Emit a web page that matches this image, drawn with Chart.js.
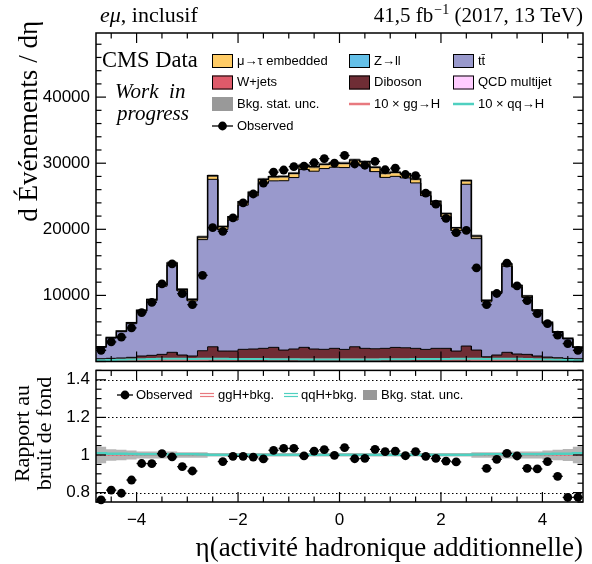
<!DOCTYPE html>
<html><head><meta charset="utf-8">
<script src="https://cdn.jsdelivr.net/npm/chart.js@4.4.1/dist/chart.umd.min.js"></script>
<style>
html,body{margin:0;padding:0;background:#fff;}
#wrap{position:relative;width:592px;height:564px;overflow:hidden;background:#fff;}
canvas{position:absolute;left:0;}
#cMain{top:0;}
#cRatio{top:366px;}
</style></head><body>
<div id="wrap"><canvas id="cMain" width="592" height="366"></canvas><canvas id="cRatio" width="592" height="198"></canvas></div>
<script>
// ---------------- DATA ----------------
const ETA_MIN = -4.8, ETA_MAX = 4.8, BIN_W = 0.2;   // 48 bins in eta
const zll      = [10,10,10,15,15,20,20,25,20,20,30,40, 30,30,35,35,35,35,35,35,40,40,40,40, 40,40,40,35,35,35,35,35,35,35,30,30, 40,30,20,20,25,20,20,15,15,10,10,10];
const qcd      = [15,15,20,20,25,30,35,45,35,30,50,70, 55,55,60,60,65,65,65,65,70,70,70,70, 70,70,70,65,65,65,65,65,60,60,55,55, 70,50,30,35,45,35,30,25,20,20,15,15];
const wjets    = [30,35,40,45,55,60,70,90,70,60,100,140, 110,110,120,125,130,135,130,135,140,140,140,140, 140,140,140,135,130,135,130,130,125,120,110,110, 140,100,60,70,90,70,60,55,45,40,35,30];
const diboson  = [365,420,460,550,735,820,955,1230,855,720,1450,1980, 1385,1385,1625,1670,1760,1905,1500,1655,1890,1640,1590,1740, 1580,1980,1740,1695,1760,1895,1850,1760,1610,1775,1795,1385, 2090,1550,610,855,1230,1005,970,735,590,500,410,365];
const ttbar    = [1740,3070,3980,5090,6730,8220,10310,13200,9700,8340,16810,25330, 18380,19830,21820,23180,24990,25190,25620,25940,26900,26900,27350,27400, 27510,27600,27580,26800,25860,25880,25700,25030,23270,21730,19910,18210, 24470,16860,8300,9290,13020,10120,8600,6800,5120,3820,2940,1700];
const embedded = [60,90,110,140,180,220,260,330,260,230,380,560, 450,480,520,550,600,620,640,650,660,660,660,660, 660,660,660,660,650,640,620,600,550,520,480,450, 560,380,230,260,330,260,220,180,140,110,90,60];
const observed = [1690,2960,3680,5080,7390,8940,11730,14770,10260,8600,13040,20240, 19700,21740,24010,25340,27000,28650,28970,29480,29550,30070,30690,30000, 31170,29880,29690,30270,29010,29250,28290,28120,25470,23800,21660,19490, 19830,14150,8590,10290,14870,11450,9200,7230,5720,3990,2710,1690];
const bkgRelUnc = [0.044,0.03,0.028,0.024,0.019,0.019,0.019,0.019,0.015,0.015,0.015,0.008, 0.008,0.008,0.008,0.008,0.008,0.008,0.008,0.008,0.008,0.008,0.008,0.008, 0.008,0.008,0.008,0.008,0.008,0.008,0.008,0.008,0.008,0.008,0.008,0.008, 0.008,0.015,0.015,0.015,0.019,0.019,0.019,0.019,0.024,0.028,0.032,0.044];
const ggH10    = [80,100,120,140,160,180,200,220,210,200,240,280, 270,280,290,300,300,310,310,310,320,320,320,320, 320,320,320,320,310,310,310,300,300,290,280,270, 280,240,200,210,220,200,180,160,140,120,100,80];
const qqH10    = [200,240,280,320,350,380,400,420,400,380,400,420, 400,390,380,370,360,350,340,330,320,320,310,310, 310,310,320,320,330,340,350,360,370,380,390,400, 420,400,380,400,420,400,380,350,320,280,240,200];
const mainYLabels  = [10000, 20000, 30000, 40000];
const ratioYLabels = [0.8, 1.0, 1.2, 1.4];
const xLabels      = [-4, -2, 0, 2, 4];
const mainYRange = {min:0, max:49700, major:10000, minor:2000};
const ratioYRange = {min:0.75, max:1.45, major:0.2, minor:0.05};
const xTickSteps = {major:2, minor:0.5};

// ---------------- STYLE ----------------
const SANS = "'Liberation Sans', Arial, Helvetica, sans-serif";
const SERIF = "'Liberation Serif', 'Times New Roman', serif";
Chart.defaults.font.family = SANS;
const COL = {zll:'#64c0e8', qcd:'#ffccff', w:'#de5a6a', vv:'#6f2d35', tt:'#9999cc', emb:'#ffcc66',
             unc:'rgba(125,125,125,0.55)', uncR:'rgba(150,150,150,0.7)', ggH:'#e8797f', qqH:'#4fd0c0'};

const N = observed.length;
const edges = Array.from({length:N+1},(_,i)=> +(ETA_MIN + i*BIN_W).toFixed(4));
const centers = Array.from({length:N},(_,i)=> +(ETA_MIN + (i+0.5)*BIN_W).toFixed(4));
function steps(vals){ const p=[]; vals.forEach((v,i)=>{ if(v==null) return; p.push({x:edges[i],y:v},{x:edges[i+1],y:v}); }); return p; }

const layers = [
  {vals:zll, color:COL.zll}, {vals:qcd, color:COL.qcd}, {vals:wjets, color:COL.w},
  {vals:diboson, color:COL.vv}, {vals:ttbar, color:COL.tt}, {vals:embedded, color:COL.emb}
];
const cums = []; let acc = new Array(N).fill(0);
layers.forEach(L=>{ acc = acc.map((c,i)=>c+L.vals[i]); cums.push(acc.slice()); });
const total = cums[cums.length-1];

function lineDS(data, extra){ return Object.assign({type:'line', data, showLine:true, pointRadius:0, borderWidth:0, fill:false, tension:0, clip:false}, extra); }

function ticksFor(min,max,minor,major){
  const out=[]; const k0=Math.ceil(min/minor-1e-9), k1=Math.floor(max/minor+1e-9);
  for(let k=k0;k<=k1;k++){ const v=k*minor; const r=v/major; out.push([v, Math.abs(r-Math.round(r))<1e-6]); }
  return out;
}
function seg(ctx,x0,y0,x1,y1){ ctx.beginPath(); ctx.moveTo(x0,y0); ctx.lineTo(x1,y1); ctx.stroke(); }
function fixAxis(w,h,labels){
  return {
    afterBuildTicks:s=>{ if(labels) s.ticks = labels.map(v=>({value:v})); },
    afterFit:s=>{ if(w!=null) s.width=w; if(h!=null) s.height=h; s.paddingTop=0; s.paddingBottom=0; s.paddingLeft=0; s.paddingRight=0; }
  };
}

function decor(o){
  return {
    id:'decor',
    beforeDatasetsDraw(chart){
      if(!o.dotted) return;
      const {ctx, chartArea:a, scales:{y}} = chart;
      ctx.save(); ctx.strokeStyle='#000'; ctx.lineWidth=1; ctx.setLineDash([1.5,2.5]);
      o.dotted.forEach(v=>{ const py=Math.round(y.getPixelForValue(v))+0.5; seg(ctx,a.left,py,a.right,py); });
      ctx.restore();
    },
    afterDatasetsDraw(chart){
      const {ctx, chartArea:a, scales:{x,y}} = chart;
      ctx.save(); ctx.strokeStyle='#000'; ctx.lineWidth=1.2;
      ticksFor(x.min,x.max,o.xMinor,o.xMajor).forEach(([v,maj])=>{
        const px=x.getPixelForValue(v), L=maj?o.maj:o.min;
        seg(ctx,px,a.bottom,px,a.bottom-L); seg(ctx,px,a.top,px,a.top+L);
      });
      ticksFor(y.min,y.max,o.yMinor,o.yMajor).forEach(([v,maj])=>{
        const py=y.getPixelForValue(v), L=maj?o.maj:o.min;
        seg(ctx,a.left,py,a.left+L,py); seg(ctx,a.right,py,a.right-L,py);
      });
      ctx.lineWidth=1.5; ctx.strokeRect(a.left,a.top,a.right-a.left,a.bottom-a.top);
      ctx.restore();
    }
  };
}
function errBars(getPts){
  return { id:'err', afterDatasetsDraw(chart){
    const {ctx, scales:{x,y}} = chart;
    ctx.save(); ctx.strokeStyle='#000'; ctx.lineWidth=1.3;
    getPts().forEach(p=>{ if(p.y==null) return;
      const px=x.getPixelForValue(p.x), py=y.getPixelForValue(p.y);
      seg(ctx,x.getPixelForValue(p.x-BIN_W/2),py,x.getPixelForValue(p.x+BIN_W/2),py);
      seg(ctx,px,y.getPixelForValue(p.y-p.e),px,y.getPixelForValue(p.y+p.e));
    });
    ctx.restore();
  }};
}

// ---------------- MAIN PANEL ----------------
const mainDS = [];
layers.forEach((L,k)=> mainDS.push(lineDS(steps(cums[k]), {fill:k===0?'origin':'-1', backgroundColor:L.color, order:100-k})));
mainDS.push(lineDS(steps(total.map((t,i)=>t*(1-bkgRelUnc[i]))), {order:60}));
mainDS.push(lineDS(steps(total.map((t,i)=>t*(1+bkgRelUnc[i]))), {fill:'-1', backgroundColor:COL.unc, order:59}));
cums.forEach((c,k)=> mainDS.push(lineDS(steps(c), {borderColor:'#000', borderWidth:k===cums.length-1?1.5:1, order:50-k})));
mainDS.push(lineDS(steps(ggH10), {borderColor:COL.ggH, borderWidth:2, order:30}));
mainDS.push(lineDS(steps(qqH10), {borderColor:COL.qqH, borderWidth:2, order:29}));
mainDS.push({type:'line', data:centers.map((c,i)=>({x:c,y:observed[i]})), showLine:false, pointRadius:4.4,
  pointBackgroundColor:'#000', pointBorderWidth:0, order:1, clip:false});

const mainText = {
  id:'mainText',
  afterDraw(chart){
    const ctx = chart.ctx; ctx.save(); ctx.fillStyle='#000';
    ctx.textBaseline='alphabetic'; ctx.textAlign='left';
    ctx.font = `italic 22px ${SERIF}`; ctx.fillText('eμ', 100, 22);
    let w = ctx.measureText('eμ').width;
    ctx.font = `22px ${SERIF}`; ctx.fillText(', inclusif', 100+w, 22);
    const p1='41,5 fb', p2='\u22121', p3=' (2017, 13 TeV)';
    ctx.font = `21px ${SERIF}`; const w1=ctx.measureText(p1).width, w3=ctx.measureText(p3).width;
    ctx.font = `14px ${SERIF}`; const w2=ctx.measureText(p2).width;
    let x0 = 583 - (w1+w2+w3+1);
    ctx.font = `21px ${SERIF}`; ctx.fillText(p1, x0, 22);
    ctx.font = `14px ${SERIF}`; ctx.fillText(p2, x0+w1+1, 14);
    ctx.font = `21px ${SERIF}`; ctx.fillText(p3, x0+w1+w2+1, 22);
    ctx.save(); ctx.translate(37, 21); ctx.rotate(-Math.PI/2);
    ctx.font = `27px ${SERIF}`; ctx.textAlign='right'; ctx.fillText('d Événements / dη', 0, 0); ctx.restore();
    ctx.font = `22.5px ${SERIF}`; ctx.fillText('CMS Data', 102, 67);
    ctx.font = `italic 21px ${SERIF}`; ctx.fillText('Work  in', 115, 98); ctx.fillText('progress', 117, 120);
    ctx.font = `13px ${SANS}`; ctx.textBaseline='middle';
    const cols=[212,349,453], rows=[61,82.5,104,126], bw=21, bh=14;
    const boxE=(c,r,color,border)=>{ const x=cols[c], yc=rows[r]; ctx.fillStyle=color; ctx.fillRect(x,yc-bh/2,bw,bh);
      if(border){ ctx.strokeStyle='#000'; ctx.lineWidth=1; ctx.strokeRect(x+0.5,yc-bh/2+0.5,bw-1,bh-1);} };
    const lineE=(c,r,color)=>{ const x=cols[c], yc=rows[r]; ctx.strokeStyle=color; ctx.lineWidth=2.5; seg(ctx,x,yc,x+bw,yc); };
    const txt=(c,r,s)=>{ ctx.fillStyle='#000'; ctx.fillText(s, cols[c]+25, rows[r]); };
    boxE(0,0,COL.emb,true); txt(0,0,'μ→τ embedded');
    boxE(1,0,COL.zll,true); txt(1,0,'Z→ll');
    boxE(2,0,COL.tt,true);  txt(2,0,'tt\u0304');
    boxE(0,1,COL.w,true);   txt(0,1,'W+jets');
    boxE(1,1,COL.vv,true);  txt(1,1,'Diboson');
    boxE(2,1,COL.qcd,true); txt(2,1,'QCD multijet');
    boxE(0,2,'#999999',false); txt(0,2,'Bkg. stat. unc.');
    lineE(1,2,COL.ggH); txt(1,2,'10 × gg→H');
    lineE(2,2,COL.qqH); txt(2,2,'10 × qq→H');
    ctx.strokeStyle='#000'; ctx.lineWidth=1.3; seg(ctx,cols[0],rows[3],cols[0]+bw,rows[3]);
    ctx.beginPath(); ctx.arc(cols[0]+bw/2, rows[3], 4.4, 0, 2*Math.PI); ctx.fillStyle='#000'; ctx.fill();
    txt(0,3,'Observed');
    ctx.restore();
  }
};

new Chart(document.getElementById('cMain'), {
  type:'line',
  data:{datasets:mainDS},
  options:{
    responsive:false, animation:false, devicePixelRatio:1, events:[],
    layout:{padding:{top:33,right:9,bottom:4.5,left:0}},
    plugins:{legend:{display:false}, tooltip:{enabled:false}, title:{display:false}},
    scales:{
      x:Object.assign({type:'linear', min:ETA_MIN, max:ETA_MAX, display:false}, fixAxis(null,0,null)),
      y:Object.assign({type:'linear', min:mainYRange.min, max:mainYRange.max,
         grid:{display:false, drawTicks:false}, border:{display:false},
         ticks:{padding:6, color:'#000', font:{family:SANS,size:17}, callback:v=> String(v)}},
         fixAxis(96,null,mainYLabels))
    }
  },
  plugins:[decor({xMinor:xTickSteps.minor,xMajor:xTickSteps.major,yMinor:mainYRange.minor,yMajor:mainYRange.major,maj:10,min:5.5}),
           errBars(()=>centers.map((c,i)=>({x:c,y:observed[i],e:Math.sqrt(observed[i])}))), mainText]
});

// ---------------- RATIO PANEL ----------------
const ratio = observed.map((o,i)=>{ const r=o/total[i]; return (r<ratioYRange.min||r>ratioYRange.max)?null:r; });
const ratioErr = observed.map((o,i)=>Math.sqrt(o)/total[i]);
const ratioDS = [
  lineDS(steps(bkgRelUnc.map(u=>1-u)), {order:60}),
  lineDS(steps(bkgRelUnc.map(u=>1+u)), {fill:'-1', backgroundColor:COL.uncR, order:59}),
  lineDS(steps(total.map((t,i)=>(t+ggH10[i]/10)/t)), {borderColor:COL.ggH, borderWidth:2.5, order:30}),
  lineDS(steps(total.map((t,i)=>(t+qqH10[i]/10)/t)), {borderColor:COL.qqH, borderWidth:2.5, order:29}),
  {type:'line', data:centers.map((c,i)=>({x:c,y:ratio[i]})), showLine:false, pointRadius:4.4,
   pointBackgroundColor:'#000', pointBorderWidth:0, order:1, clip:false}
];
const ratioText = {
  id:'ratioText',
  afterDraw(chart){
    const ctx=chart.ctx; ctx.save(); ctx.fillStyle='#000';
    ctx.font = `22px ${SERIF}`; ctx.textAlign='center'; ctx.textBaseline='alphabetic';
    ctx.save(); ctx.translate(29, 67.5); ctx.rotate(-Math.PI/2); ctx.fillText('Rapport au', 0, 0); ctx.restore();
    ctx.save(); ctx.translate(51, 67.5); ctx.rotate(-Math.PI/2); ctx.fillText('bruit de fond', 0, 0); ctx.restore();
    ctx.textAlign='right'; ctx.font = `27px ${SERIF}`;
    ctx.fillText('η(activité hadronique additionnelle)', 583, 190);
    ctx.textAlign='left'; ctx.textBaseline='middle'; ctx.font = `13px ${SANS}`;
    const yc = 29;
    ctx.strokeStyle='#000'; ctx.lineWidth=1.3; seg(ctx,117,yc,133,yc);
    ctx.beginPath(); ctx.arc(125,yc,4.4,0,2*Math.PI); ctx.fill();
    ctx.fillText('Observed', 136, yc);
    ctx.lineWidth=1.2; ctx.strokeStyle=COL.ggH; seg(ctx,200,yc-1.5,214,yc-1.5); seg(ctx,200,yc+1.5,214,yc+1.5);
    ctx.fillStyle='#000'; ctx.fillText('ggH+bkg.', 218, yc);
    ctx.strokeStyle=COL.qqH; seg(ctx,284,yc-1.5,298,yc-1.5); seg(ctx,284,yc+1.5,298,yc+1.5);
    ctx.fillText('qqH+bkg.', 301, yc);
    ctx.fillStyle='#999999'; ctx.fillRect(363,yc-5,14,10);
    ctx.fillStyle='#000'; ctx.fillText('Bkg. stat. unc.', 381, yc);
    ctx.restore();
  }
};
new Chart(document.getElementById('cRatio'), {
  type:'line',
  data:{datasets:ratioDS},
  options:{
    responsive:false, animation:false, devicePixelRatio:1, events:[],
    layout:{padding:{top:4,right:9,bottom:0,left:0}},
    plugins:{legend:{display:false}, tooltip:{enabled:false}},
    scales:{
      x:Object.assign({type:'linear', min:ETA_MIN, max:ETA_MAX, grid:{display:false, drawTicks:false}, border:{display:false},
         ticks:{padding:8, maxRotation:0, autoSkip:false, color:'#000',
                font:{family:SANS,size:17}, callback:v=> String(Math.round(v)).replace('-', '\u2212')}},
         fixAxis(null,62,xLabels)),
      y:Object.assign({type:'linear', min:ratioYRange.min, max:ratioYRange.max, grid:{display:false, drawTicks:false}, border:{display:false},
         ticks:{padding:6, color:'#000', font:{family:SANS,size:17}, callback:v=> String(+v.toFixed(2))}},
         fixAxis(96,null,ratioYLabels))
    }
  },
  plugins:[decor({xMinor:xTickSteps.minor,xMajor:xTickSteps.major,yMinor:ratioYRange.minor,yMajor:ratioYRange.major,maj:10,min:5.5,
                  dotted:[0.8,1.0,1.2,1.4]}),
           errBars(()=>centers.map((c,i)=>({x:c,y:ratio[i],e:ratioErr[i]}))), ratioText]
});
</script></body></html>
